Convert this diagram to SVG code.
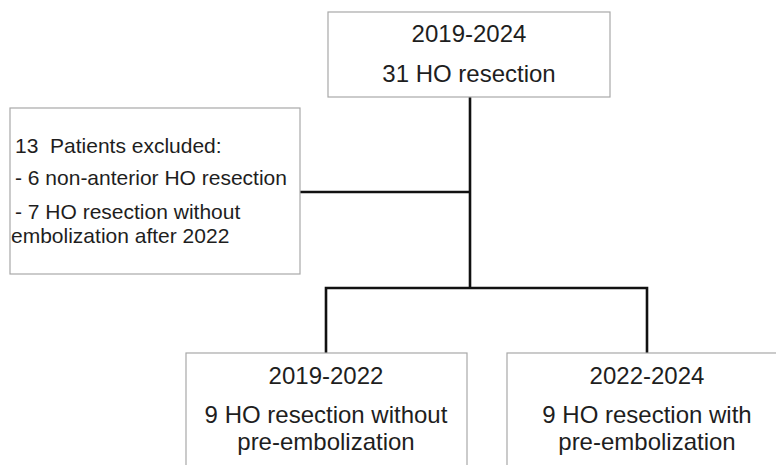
<svg xmlns="http://www.w3.org/2000/svg" width="776" height="465" viewBox="0 0 776 465">
<style>
.box{fill:#fff;stroke:#a8a8a8;stroke-width:1.2}
.t{font-family:"Liberation Sans",Arial,sans-serif;fill:#1e1e1e}
.big{font-size:24px;text-anchor:middle}
.sm{font-size:21px}
.c{fill:none;stroke:#111;stroke-width:2.6}
</style>
<rect width="776" height="465" fill="#fff"/>
<g id="connectors">
<path class="c" d="M470 97 V289"/>
<path class="c" d="M300 192 H470"/>
<path class="c" d="M326 353 V288 H647 V353"/>
</g>
<g id="top">
<rect class="box" x="328" y="12" width="282" height="85"/>
<text class="t big" x="469" y="42">2019-2024</text>
<text class="t big" x="469" y="82">31 HO resection</text>
</g>
<g id="excluded">
<rect class="box" x="10" y="108" width="290" height="166"/>
<text class="t sm" x="15" y="153" xml:space="preserve">13  Patients excluded:</text>
<text class="t sm" x="15" y="185">- 6 non-anterior HO resection</text>
<text class="t sm" x="15" y="219">- 7 HO resection without</text>
<text class="t sm" x="11" y="243">embolization after 2022</text>
</g>
<g id="without">
<rect class="box" x="186" y="353" width="281" height="120"/>
<text class="t big" x="326" y="384">2019-2022</text>
<text class="t big" x="326" y="423">9 HO resection without</text>
<text class="t big" x="326" y="450">pre-embolization</text>
</g>
<g id="with">
<rect class="box" x="507" y="353" width="280" height="120"/>
<text class="t big" x="647" y="384">2022-2024</text>
<text class="t big" x="647" y="423">9 HO resection with</text>
<text class="t big" x="647" y="450">pre-embolization</text>
</g>
</svg>
